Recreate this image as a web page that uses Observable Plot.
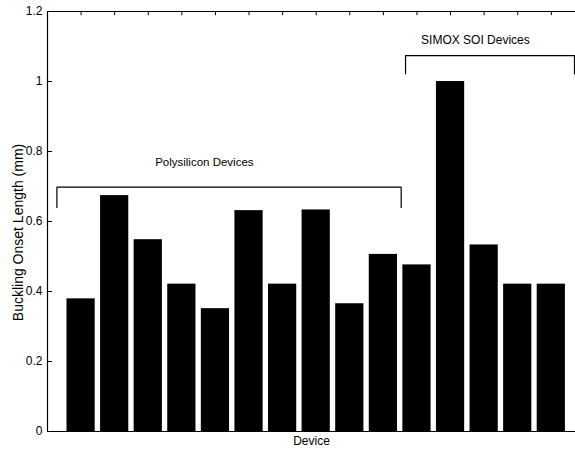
<!DOCTYPE html>
<html>
<head>
<meta charset="utf-8">
<script src="https://cdn.jsdelivr.net/npm/d3@7"></script>
<script src="https://cdn.jsdelivr.net/npm/@observablehq/plot@0.6"></script>
<style>
  html, body { margin: 0; padding: 0; background: #fff; overflow: hidden; }
  svg { display: block; }
</style>
</head>
<body>
<div id="chart"></div>
<script>
// Data
const devices = [1, 2, 3, 4, 5, 6, 7, 8, 9, 10, 11, 12, 13, 14, 15];
const onsetLength = [0.379, 0.674, 0.548, 0.421, 0.351, 0.631, 0.421, 0.633, 0.365, 0.506, 0.476, 1.0, 0.533, 0.421, 0.421];
const yTicks = [0, 0.2, 0.4, 0.6, 0.8, 1, 1.2];
const yTickLabels = ["0", "0.2", "0.4", "0.6", "0.8", "1", "1.2"];
const groupLabels = ["Polysilicon Devices", "SIMOX SOI Devices"];
const groupLabelSizes = [11.5, 12];
// bracket annotations: [x start, x end, top y, leg bottom y]
const polyBracket = [0.28, 10.53, 0.698, 0.64];
const simoxBracket = [10.66, 15.69, 1.074, 1.022];
const groupLabelPos = [[4.67, 0.77], [12.74, 1.117]];
const xLabel = "Device";
const yLabel = "Buckling Onset Length (mm)";

const barHalf = 0.42;
const table = devices.map((d, i) => ({device: d, value: onsetLength[i]}));
const bracketPts = (b) => [
  {x: b[0], y: b[3]}, {x: b[0], y: b[2]}, {x: b[1], y: b[2]}, {x: b[1], y: b[3]}
];
const labels = groupLabels.map((t, i) => ({text: t, x: groupLabelPos[i][0], y: groupLabelPos[i][1], size: groupLabelSizes[i]}));

const chart = Plot.plot({
  width: 575,
  height: 452,
  marginLeft: 47,
  marginRight: 0,
  marginTop: 11,
  marginBottom: 21,
  style: {fontFamily: "'Liberation Sans', Arial, Helvetica, sans-serif", fontSize: "12px", color: "#000", background: "#fff"},
  x: {type: "linear", domain: [0, 15.72]},
  y: {domain: [0, 1.2]},
  marks: [
    Plot.rectY(table, {x1: d => d.device - barHalf, x2: d => d.device + barHalf, y: "value", fill: "#000"}),
    // frame lines
    Plot.ruleX([0], {stroke: "#000", strokeWidth: 1.2}),
    Plot.ruleY([0], {stroke: "#000", strokeWidth: 1.2}),
    Plot.ruleY([1.2], {stroke: "#000", strokeWidth: 1.2}),
    // inward ticks
    Plot.ruleY(yTicks, {x1: 0, x2: 0.15, stroke: "#000"}),
    Plot.ruleX(devices, {y1: 1.2, y2: 1.188, stroke: "#000"}),
    // y axis labels
    Plot.axisY(yTicks, {tickSize: 0, tickPadding: 5, tickFormat: (d, i) => yTickLabels[i], label: null, fontSize: 12}),
    Plot.axisX({ticks: [], label: null, tickSize: 0}),
    // brackets
    Plot.line(bracketPts(polyBracket), {x: "x", y: "y", stroke: "#000", strokeWidth: 1.2}),
    Plot.line(bracketPts(simoxBracket), {x: "x", y: "y", stroke: "#000", strokeWidth: 1.2}),
    Plot.text(labels.slice(0, 1), {x: "x", y: "y", text: "text", fontSize: groupLabelSizes[0], fill: "#000"}),
    Plot.text(labels.slice(1), {x: "x", y: "y", text: "text", fontSize: groupLabelSizes[1], fill: "#000"}),
    // axis titles
    Plot.text([xLabel], {frameAnchor: "bottom", dy: 13, fontSize: 12, fill: "#000"}),
    Plot.text([yLabel], {frameAnchor: "left", textAnchor: "middle", rotate: -90, dx: -29, dy: 11, fontSize: 14, fill: "#000"})
  ]
});
document.getElementById("chart").appendChild(chart);
</script>
</body>
</html>
